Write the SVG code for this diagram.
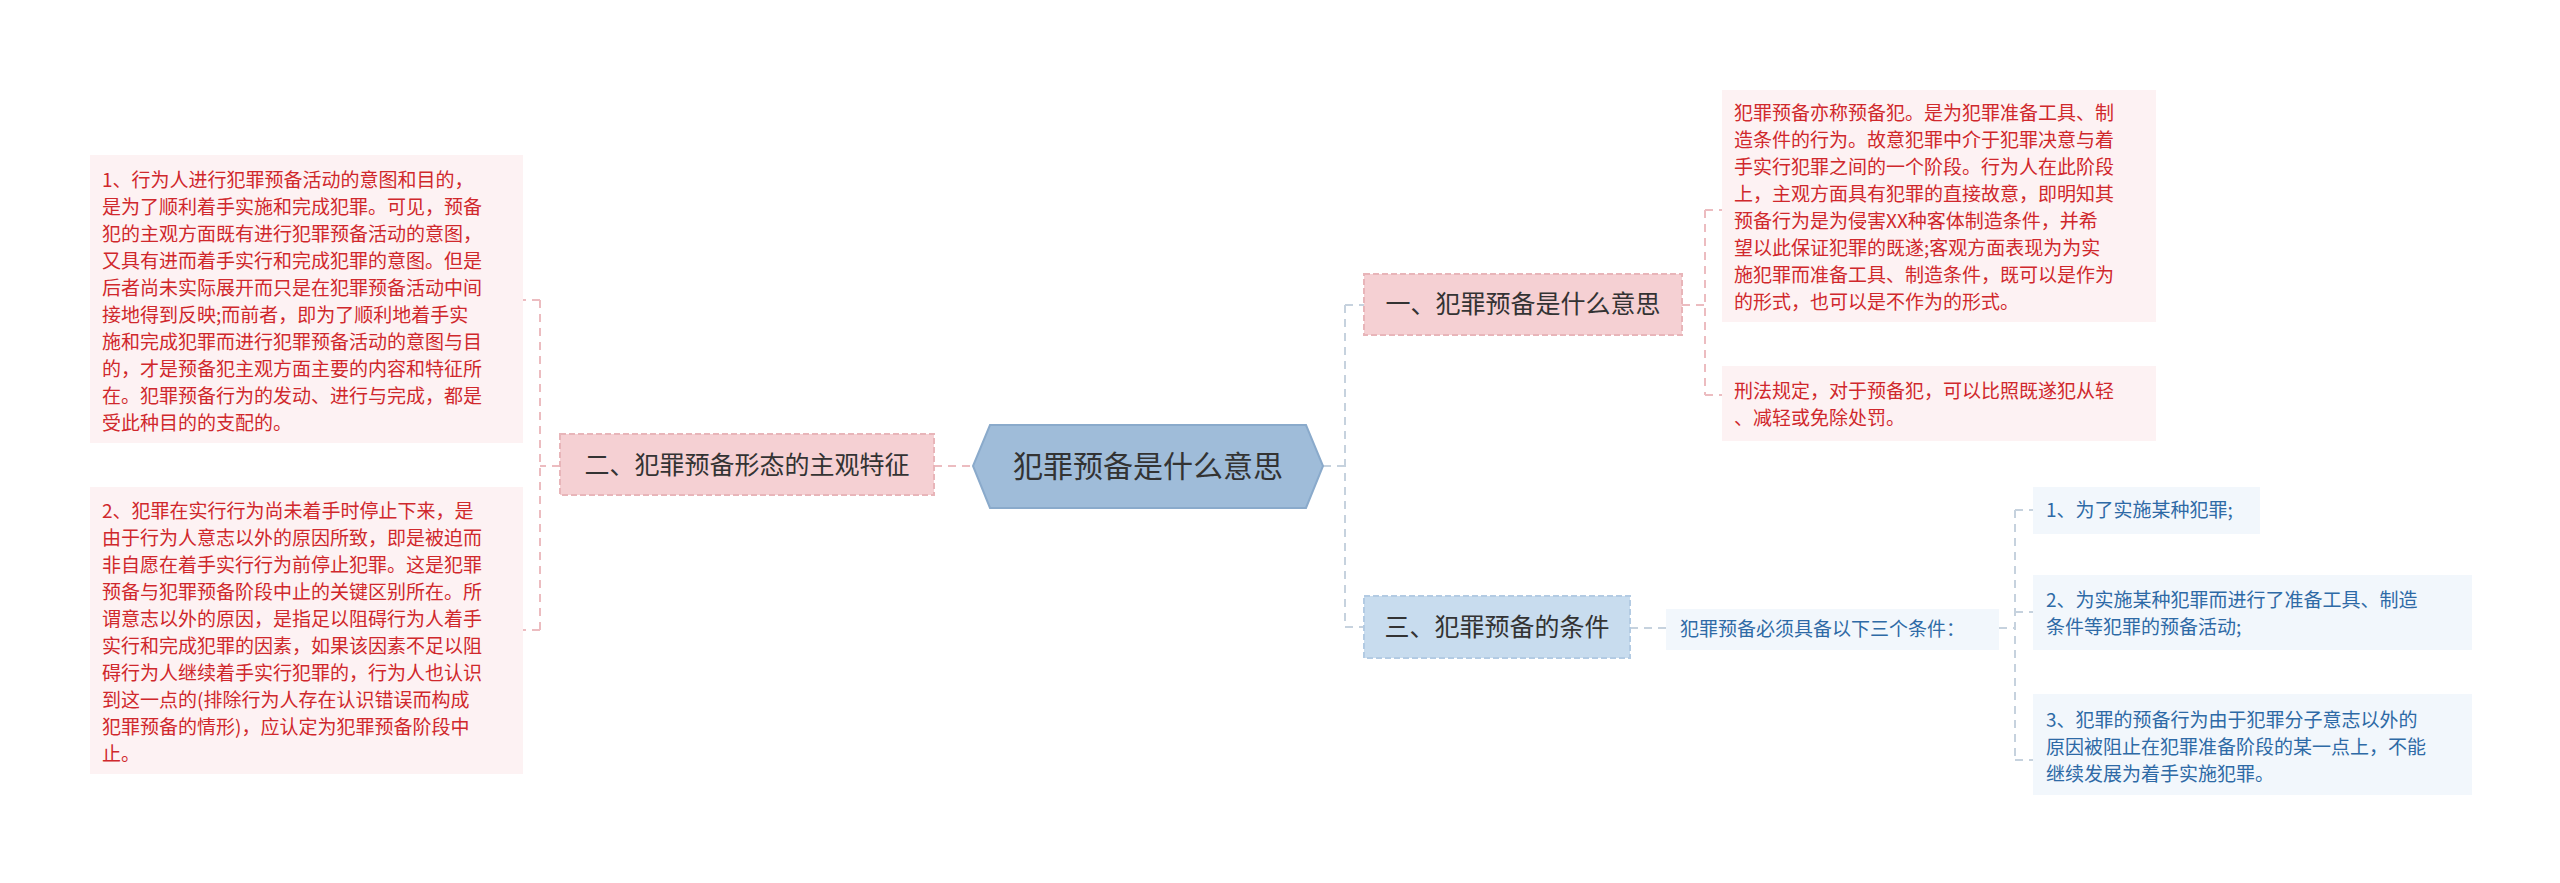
<svg xmlns="http://www.w3.org/2000/svg" width="2560" height="883" viewBox="0 0 2560 883">
<style>
text{font-family:"Noto Sans CJK SC","Liberation Sans",sans-serif}
.r{fill:#d0282c;font-size:19px}
.b{fill:#2e6aa6;font-size:19px}
.pbox{fill:#fdf2f3}
.bbox{fill:#f2f7fc}
.pn{fill:#f5d0d3;stroke:#e8b5b9;stroke-width:2;stroke-dasharray:6 3}
.bn{fill:#c8dcee;stroke:#b3cbe3;stroke-width:2;stroke-dasharray:6 3}
.h{fill:#333;font-size:25px}
.lp{fill:none;stroke:#ecbcc0;stroke-width:2;stroke-dasharray:8 6}
.lb{fill:none;stroke:#c6d2de;stroke-width:2;stroke-dasharray:8 6}
</style>
<rect width="2560" height="883" fill="#fff"/>
<g id="connectors">
<path class="lp" d="M934 466H973"/>
<path class="lp" d="M560 466H540M540 300V630M540 300H523M540 630H523"/>
<path class="lb" d="M1323 466H1345M1345 305V627M1345 305H1364M1345 627H1364"/>
<path class="lp" d="M1682 305H1705M1705 210V395M1705 210H1722M1705 395H1722"/>
<path class="lb" d="M1630 628H1666"/>
<path class="lb" d="M1999 628H2015M2015 510V760M2015 510H2033M2015 612H2033M2015 760H2033"/>
</g>
<g id="center">
<polygon points="990,425 1306,425 1323,466 1306,508 990,508 973,466" fill="#9fbcd9" stroke="#8aaacb" stroke-width="2"/>
<text x="1148" y="477" text-anchor="middle" font-size="30" fill="#333">犯罪预备是什么意思</text>
</g>
<g id="n2">
<rect class="pn" x="560" y="434" width="374" height="61"/>
<text class="h" x="747" y="474" text-anchor="middle">二、犯罪预备形态的主观特征</text>
</g>
<g id="box1">
<rect class="pbox" x="90" y="155" width="433" height="288"/>
<text class="r"><tspan x="102" y="187">1、行为人进行犯罪预备活动的意图和目的，</tspan><tspan x="102" y="214">是为了顺利着手实施和完成犯罪。可见，预备</tspan><tspan x="102" y="241">犯的主观方面既有进行犯罪预备活动的意图，</tspan><tspan x="102" y="268">又具有进而着手实行和完成犯罪的意图。但是</tspan><tspan x="102" y="295">后者尚未实际展开而只是在犯罪预备活动中间</tspan><tspan x="102" y="322">接地得到反映;而前者，即为了顺利地着手实</tspan><tspan x="102" y="349">施和完成犯罪而进行犯罪预备活动的意图与目</tspan><tspan x="102" y="376">的，才是预备犯主观方面主要的内容和特征所</tspan><tspan x="102" y="403">在。犯罪预备行为的发动、进行与完成，都是</tspan><tspan x="102" y="430">受此种目的的支配的。</tspan></text>
</g>
<g id="box2">
<rect class="pbox" x="90" y="487" width="433" height="287"/>
<text class="r"><tspan x="102" y="518">2、犯罪在实行行为尚未着手时停止下来，是</tspan><tspan x="102" y="545">由于行为人意志以外的原因所致，即是被迫而</tspan><tspan x="102" y="572">非自愿在着手实行行为前停止犯罪。这是犯罪</tspan><tspan x="102" y="599">预备与犯罪预备阶段中止的关键区别所在。所</tspan><tspan x="102" y="626">谓意志以外的原因，是指足以阻碍行为人着手</tspan><tspan x="102" y="653">实行和完成犯罪的因素，如果该因素不足以阻</tspan><tspan x="102" y="680">碍行为人继续着手实行犯罪的，行为人也认识</tspan><tspan x="102" y="707">到这一点的(排除行为人存在认识错误而构成</tspan><tspan x="102" y="734">犯罪预备的情形)，应认定为犯罪预备阶段中</tspan><tspan x="102" y="761">止。</tspan></text>
</g>
<g id="n1">
<rect class="pn" x="1364" y="274" width="318" height="61"/>
<text class="h" x="1523" y="313" text-anchor="middle">一、犯罪预备是什么意思</text>
</g>
<g id="boxA">
<rect class="pbox" x="1722" y="90" width="434" height="232"/>
<text class="r"><tspan x="1734" y="120">犯罪预备亦称预备犯。是为犯罪准备工具、制</tspan><tspan x="1734" y="147">造条件的行为。故意犯罪中介于犯罪决意与着</tspan><tspan x="1734" y="174">手实行犯罪之间的一个阶段。行为人在此阶段</tspan><tspan x="1734" y="201">上，主观方面具有犯罪的直接故意，即明知其</tspan><tspan x="1734" y="228">预备行为是为侵害XX种客体制造条件，并希</tspan><tspan x="1734" y="255">望以此保证犯罪的既遂;客观方面表现为为实</tspan><tspan x="1734" y="282">施犯罪而准备工具、制造条件，既可以是作为</tspan><tspan x="1734" y="309">的形式，也可以是不作为的形式。</tspan></text>
</g>
<g id="boxB">
<rect class="pbox" x="1722" y="366" width="434" height="75"/>
<text class="r"><tspan x="1734" y="398">刑法规定，对于预备犯，可以比照既遂犯从轻</tspan><tspan x="1734" y="425">、减轻或免除处罚。</tspan></text>
</g>
<g id="n3">
<rect class="bn" x="1364" y="596" width="266" height="62"/>
<text class="h" x="1497" y="636" text-anchor="middle">三、犯罪预备的条件</text>
</g>
<g id="mid">
<rect class="bbox" x="1666" y="609" width="333" height="41"/>
<text class="b" x="1680" y="636">犯罪预备必须具备以下三个条件：</text>
</g>
<g id="c1">
<rect class="bbox" x="2033" y="487" width="227" height="47"/>
<text class="b" x="2046" y="517">1、为了实施某种犯罪;</text>
</g>
<g id="c2">
<rect class="bbox" x="2033" y="575" width="439" height="75"/>
<text class="b"><tspan x="2046" y="607">2、为实施某种犯罪而进行了准备工具、制造</tspan><tspan x="2046" y="634">条件等犯罪的预备活动;</tspan></text>
</g>
<g id="c3">
<rect class="bbox" x="2033" y="694" width="439" height="101"/>
<text class="b"><tspan x="2046" y="727">3、犯罪的预备行为由于犯罪分子意志以外的</tspan><tspan x="2046" y="754">原因被阻止在犯罪准备阶段的某一点上，不能</tspan><tspan x="2046" y="781">继续发展为着手实施犯罪。</tspan></text>
</g>
</svg>
